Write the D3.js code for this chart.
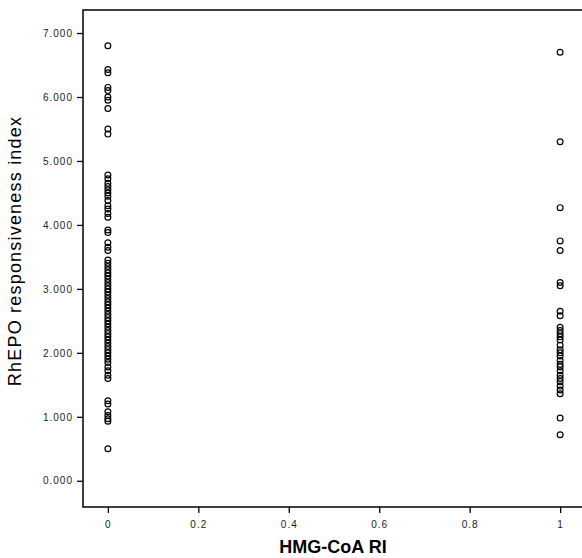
<!DOCTYPE html>
<html lang="en">
<head>
  <meta charset="utf-8">
  <script src="https://cdn.jsdelivr.net/npm/d3@7"></script>
  <style>
    body { margin: 0; background: #fff; }
    .tick text { font-family: "Liberation Sans", Arial, sans-serif; font-size: 10px; letter-spacing: 1px; fill: #222; }
    .tick line { stroke: #000; stroke-width: 1.3; }
  </style>
</head>
<body>
  <div id="chart"></div>

  <script>
    // RhEPO responsiveness index grouped by HMG-CoA RI (0 = no, 1 = yes)
    const groupNo = [6.80, 6.43, 6.38, 6.15, 6.10, 6.00, 5.95, 5.82, 5.50, 5.42,
      4.78, 4.72, 4.65, 4.60, 4.55, 4.50, 4.45, 4.38, 4.30, 4.25, 4.18, 4.12,
      3.92, 3.88, 3.72, 3.65, 3.60,
      3.45, 3.40, 3.35, 3.30, 3.25, 3.20, 3.15, 3.10, 3.05, 3.00, 2.95, 2.90,
      2.85, 2.80, 2.75, 2.70, 2.65, 2.60, 2.55, 2.50, 2.45, 2.40, 2.35, 2.30,
      2.25, 2.20, 2.15, 2.10, 2.05, 2.00, 1.95, 1.90, 1.85, 1.78, 1.72, 1.65, 1.60,
      1.25, 1.20, 1.08, 1.02, 0.97, 0.93, 0.50];
    const groupYes = [6.70, 5.30, 4.27, 3.75, 3.60, 3.10, 3.05, 2.65, 2.58,
      2.40, 2.35, 2.30, 2.25, 2.20, 2.12, 2.05, 2.00, 1.95, 1.88, 1.82, 1.78,
      1.72, 1.65, 1.60, 1.55, 1.48, 1.42, 1.36, 0.98, 0.72];
    const xTicks = [0, 0.2, 0.4, 0.6, 0.8, 1];
    const yTicks = [0, 1, 2, 3, 4, 5, 6, 7];

    const w = 582, h = 558;
    const plotLeft = 83, plotTop = 10, plotBottom = 507, plotRight = 585;

    const points = groupNo.map(v => [0, v]).concat(groupYes.map(v => [1, v]));

    const xScale = d3.scaleLinear().domain([-0.055, 1.055]).range([plotLeft, plotRight]);
    const yScale = d3.scaleLinear().domain([-0.41, 7.36]).range([plotBottom, plotTop]);

    const svg = d3.select("#chart").append("svg")
      .attr("width", w)
      .attr("height", h);

    // frame (right side runs off the picture)
    svg.append("path")
      .attr("d", `M${plotRight},${plotTop}H${plotLeft}V${plotBottom}H${plotRight}`)
      .attr("fill", "none")
      .attr("stroke", "#000")
      .attr("stroke-width", 1.5);

    const yAxis = d3.axisLeft(yScale)
      .tickValues(yTicks)
      .tickFormat(d3.format(".3f"))
      .tickSize(6)
      .tickPadding(4);
    svg.append("g")
      .attr("transform", `translate(${plotLeft},0)`)
      .call(yAxis)
      .call(g => g.select(".domain").remove());

    const xAxis = d3.axisBottom(xScale)
      .tickValues(xTicks)
      .tickFormat(d3.format("~g"))
      .tickSize(6)
      .tickPadding(8);
    svg.append("g")
      .attr("transform", `translate(0,${plotBottom})`)
      .call(xAxis)
      .call(g => g.select(".domain").remove());

    svg.selectAll("circle.pt")
      .data(points)
      .enter()
      .append("circle")
      .attr("class", "pt")
      .attr("cx", d => xScale(d[0]))
      .attr("cy", d => yScale(d[1]))
      .attr("r", 2.9)
      .attr("fill", "none")
      .attr("stroke", "#000")
      .attr("stroke-width", 1.2);

    svg.append("text")
      .attr("transform", "translate(21,251) rotate(-90)")
      .attr("text-anchor", "middle")
      .style("font-family", "Liberation Sans, Arial, sans-serif")
      .style("font-size", "18px")
      .style("letter-spacing", "1.2px")
      .text("RhEPO responsiveness index");

    svg.append("text")
      .attr("x", 333)
      .attr("y", 553)
      .attr("text-anchor", "middle")
      .style("font-family", "Liberation Sans, Arial, sans-serif")
      .style("font-size", "18px")
      .style("font-weight", "bold")
      .text("HMG-CoA RI");
  </script>
</body>
</html>
